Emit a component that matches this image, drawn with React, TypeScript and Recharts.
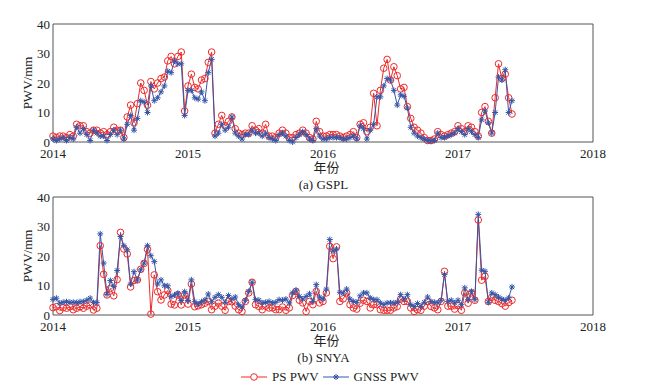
import { LineChart, Line, XAxis, YAxis, ReferenceArea } from "recharts";

// sampling: one value every 0.025 year, starting at 2014.0
const START_YEAR = 2014;
const STEP = 0.025;

const gsplPs = [
  2, 1.5, 2, 2, 1.5, 2.5, 2, 6, 5.5, 5.5,
  3.5, 3, 4, 4, 3, 3.5, 2.5, 3.5, 5, 4,
  4, 1.5, 8.5, 12.5, 6.5, 13, 20, 17.5, 12.5, 20.5,
  18, 20, 21.5, 22, 27.5, 29, 26.5, 29, 30.5, 10.5,
  19, 23, 18.5, 18, 21, 21.5, 27, 30.5, 3, 6,
  9, 5.5, 7, 8.5, 4.5, 3, 2.5, 3, 3, 5.5,
  4, 4.5, 3, 6, 2, 2, 1.5, 3, 4, 3,
  1.5, 1.5, 2.5, 3, 4, 3, 1.5, 1, 7, 3.5,
  2, 2, 2.5, 2.5, 2.5, 2, 1.5, 2, 2.5, 3.5,
  1.5, 6, 6.5, 3.5, 5, 16.5, 5.5, 17.5, 25, 28,
  21, 25.5, 22.5, 18, 18.5, 12, 8, 5, 4, 3,
  1.5, 0.5, 0.5, 1, 3.5, 2.5, 2, 2.5, 3, 3.5,
  5.5, 4.5, 3.5, 5.5, 5, 3.5, 2, 10, 12, 7,
  3, 15, 26.5, 21.5, 23, 15, 9.5,
];

const gsplGnss = [
  1, 0.5, 1, 1.5, 0.5, 1.5, 1, 5, 3, 4.5,
  2.5, 0.5, 4, 3, 2, 2, 0.5, 2.5, 4, 2.5,
  4, 1, 6, 9, 4, 8, 14, 13.5, 10, 19,
  14, 15, 17, 19, 24, 23.5, 27.5, 26.5, 26.5, 9,
  17.5, 17.5, 15, 14.5, 17, 14, 23.5, 28, 2, 3,
  6, 4, 5, 8.5, 3, 2, 1, 2.5, 2.5, 4,
  3, 3, 2, 3, 1.5, 1, 0.5, 2.5, 3, 2,
  0.5, 0, 1.5, 2.5, 3.5, 2.5, 1, 0.5, 4.5, 2,
  1, 1, 1.5, 1.5, 1.5, 1.5, 1, 1, 1.5, 2,
  1, 5.5, 4.5, 1, 4, 6, 15.3, 15.3, 19, 21.5,
  21, 17.5, 12.5, 16, 15.5, 11.5, 5, 3, 2, 1.5,
  1, 0.5, 0.3, 0.5, 3, 1.5, 1.5, 2, 2.5, 3,
  4.5, 3.5, 2.5, 4.5, 3.5, 2.5, 1.5, 7.5, 10.5, 6.5,
  3, 10, 22, 21, 24.5, 10, 14,
];

const snyaPs = [
  2.5, 2.8, 1.5, 2.5, 2.3, 2.8, 1.8, 2.3, 2.8, 2.3,
  3, 3.4, 1.7, 2.3, 23.5, 13.8, 6.8, 9, 6.5, 12,
  28, 22.4, 20.7, 9.5, 11.7, 11.9, 15.5, 17.5, 22.3, 0.3,
  13.6, 7.9, 5.1, 6.8, 8.3, 3.7, 3.4, 6.8, 3.4, 6.8,
  3.7, 10.5, 2.8, 3.1, 3.5, 4, 4.6, 1.8, 3, 4,
  3, 1.6, 4.6, 4.5, 3, 1.8, 1.2, 4.6, 7.5, 11.1,
  3.5, 2.9, 1.8, 3, 2.4, 2.4, 1.8, 1.8, 2.7, 1.6,
  2.4, 6.6, 8, 5, 4.1, 1.2, 4.6, 3.5, 8, 4.1,
  4.6, 7.5, 23.3, 19.1, 23.1, 4.6, 5.5, 7.5, 3.5, 2.4,
  2, 4, 5, 4.6, 2.4, 3.5, 3.5, 1.8, 1.6, 1.6,
  1.6, 2.4, 2.9, 5.4, 4.6, 4.6, 2.4, 1.2, 1.8, 1.6,
  3, 4.6, 2.9, 2.4, 1.8, 4.6, 14.8, 3, 3, 2,
  3.2, 1.6, 7.5, 4, 7.5, 5, 32.2, 11.8, 13.1, 4.6,
  6, 5, 4.6, 3.9, 3, 4.2, 5,
];

const snyaGnss = [
  5.3, 5.7, 4, 4.3, 4.5, 4.3, 4.3, 4.2, 4.5, 4.5,
  5, 5.7, 4.2, 4.2, 27.5, 17.6, 7, 11.7, 9.6, 15.1,
  26.6, 23.5, 22.1, 10.5, 14.7, 11.9, 15.3, 17.6, 23.5, 20.1,
  18.1, 10.5, 11.9, 9.9, 9.9, 6.2, 6.8, 7.4, 4.9, 7.9,
  4.9, 11.9, 4.5, 3.7, 4.5, 5.1, 7.1, 4.5, 6, 6.9,
  6, 4.3, 6.6, 5.4, 6.1, 3.5, 2.7, 5, 8, 11.1,
  5.2, 5, 4.1, 4.3, 4.6, 4.1, 4.3, 5.2, 5, 5.4,
  4.1, 7.5, 8.4, 6.3, 5.4, 6.3, 7.2, 4.6, 10.3, 6.1,
  5.4, 8.8, 25.6, 21.6, 22.4, 7.7, 7.5, 8.8, 5.4, 4.6,
  4.3, 6.5, 7.5, 7.5, 5.8, 5.2, 5.2, 4.1, 3.5, 4.1,
  4.1, 4.1, 4.3, 6.9, 5.4, 6.9, 3.5, 2.9, 3.9, 2.9,
  4.3, 6.1, 4.6, 4.3, 4.1, 5, 13.7, 4.6, 5, 4.1,
  5, 3.5, 9.2, 5.2, 8, 5.2, 34.1, 15.2, 14.8, 4.3,
  7.5, 6.9, 6.1, 5.4, 5, 5.8, 9.5,
];

const yearTicks = [2014, 2015, 2016, 2017, 2018];
const pwvTicks = [0, 10, 20, 30, 40];

const RED = "#ee2a2a";
const BLUE = "#3556a8";
const FONT = "'Liberation Serif', 'Times New Roman', 'Noto Sans CJK SC', serif";

function toRows(ps: number[], gnss: number[]) {
  return ps.map((v, i) => ({ t: START_YEAR + i * STEP, ps: v, gnss: gnss[i] }));
}

const StarDot = (props: { cx?: number; cy?: number; index?: number }) => {
  const { cx, cy, index } = props;
  if (cx == null || cy == null) return null;
  const r = 3;
  const d = 2.2;
  return (
    <g key={`s-${index}`} stroke={BLUE} strokeWidth={1}>
      <line x1={cx - r} y1={cy} x2={cx + r} y2={cy} />
      <line x1={cx} y1={cy - r} x2={cx} y2={cy + r} />
      <line x1={cx - d} y1={cy - d} x2={cx + d} y2={cy + d} />
      <line x1={cx - d} y1={cy + d} x2={cx + d} y2={cy - d} />
    </g>
  );
};

const tickStyle = { fontSize: 13, fill: "#222", fontFamily: FONT };

function Panel({ ps, gnss, top, caption }: { ps: number[]; gnss: number[]; top: number; caption: string }) {
  const data = toRows(ps, gnss);
  return (
    <div style={{ position: "absolute", left: 0, top, width: 647, height: 200 }}>
      <LineChart width={647} height={162} data={data} margin={{ top: 24, right: 54, bottom: 0, left: 13 }}>
        <XAxis
          dataKey="t"
          type="number"
          domain={[2014, 2018]}
          ticks={yearTicks}
          height={20}
          axisLine={false}
          tickLine={false}
          tickSize={4}
          tickMargin={3}
          tick={tickStyle}
        />
        <YAxis
          domain={[0, 40]}
          ticks={pwvTicks}
          width={40}
          axisLine={false}
          tickLine={false}
          tickSize={1}
          tickMargin={2}
          tick={tickStyle}
        />
        <ReferenceArea x1={2014} x2={2018} y1={0} y2={40} fill="none" stroke="#555" strokeWidth={1} />
        <Line
          dataKey="ps"
          stroke={RED}
          strokeWidth={1}
          dot={{ r: 3.3, stroke: RED, strokeWidth: 1, fill: "none" }}
          isAnimationActive={false}
        />
        <Line
          dataKey="gnss"
          stroke={BLUE}
          strokeWidth={1}
          dot={StarDot}
          isAnimationActive={false}
        />
      </LineChart>
      <div
        style={{
          position: "absolute",
          left: 28,
          top: 83,
          transform: "translate(-50%, -50%) rotate(-90deg)",
          fontSize: 13,
          whiteSpace: "nowrap",
          color: "#222",
        }}
      >
        PWV/mm
      </div>
      <div style={{ position: "absolute", left: 0, width: 647, top: 160, textAlign: "center", fontSize: 13, lineHeight: "16px", color: "#222" }}>
        <div style={{ paddingLeft: 6 }}>年份</div>
        <div style={{ marginTop: 1 }}>{caption}</div>
      </div>
    </div>
  );
}

function LegendRow() {
  return (
    <div
      style={{
        position: "absolute",
        left: 0,
        top: 369,
        width: 647,
        display: "flex",
        justifyContent: "center",
        alignItems: "center",
        fontSize: 13,
        color: "#222",
        paddingLeft: 12,
        boxSizing: "border-box",
      }}
    >
      <svg width={28} height={12}>
        <line x1={1} y1={6} x2={27} y2={6} stroke={RED} strokeWidth={1} />
        <circle cx={14} cy={6} r={3.3} stroke={RED} fill="#fff" strokeWidth={1} />
      </svg>
      <span style={{ marginLeft: 4, marginRight: 3 }}>PS PWV</span>
      <svg width={28} height={12}>
        <line x1={1} y1={6} x2={27} y2={6} stroke={BLUE} strokeWidth={1} />
        <g stroke={BLUE}>
          <line x1={11} y1={6} x2={17} y2={6} />
          <line x1={14} y1={3} x2={14} y2={9} />
          <line x1={12} y1={4} x2={16} y2={8} />
          <line x1={12} y1={8} x2={16} y2={4} />
        </g>
      </svg>
      <span style={{ marginLeft: 4 }}>GNSS PWV</span>
    </div>
  );
}

export default function App() {
  return (
    <div
      style={{
        position: "absolute",
        left: 0,
        top: 0,
        width: 647,
        height: 388,
        background: "#fff",
        fontFamily: FONT,
        overflow: "hidden",
      }}
    >
      <Panel ps={gsplPs} gnss={gsplGnss} top={0} caption="(a) GSPL" />
      <Panel ps={snyaPs} gnss={snyaGnss} top={173} caption="(b) SNYA" />
      <LegendRow />
    </div>
  );
}
